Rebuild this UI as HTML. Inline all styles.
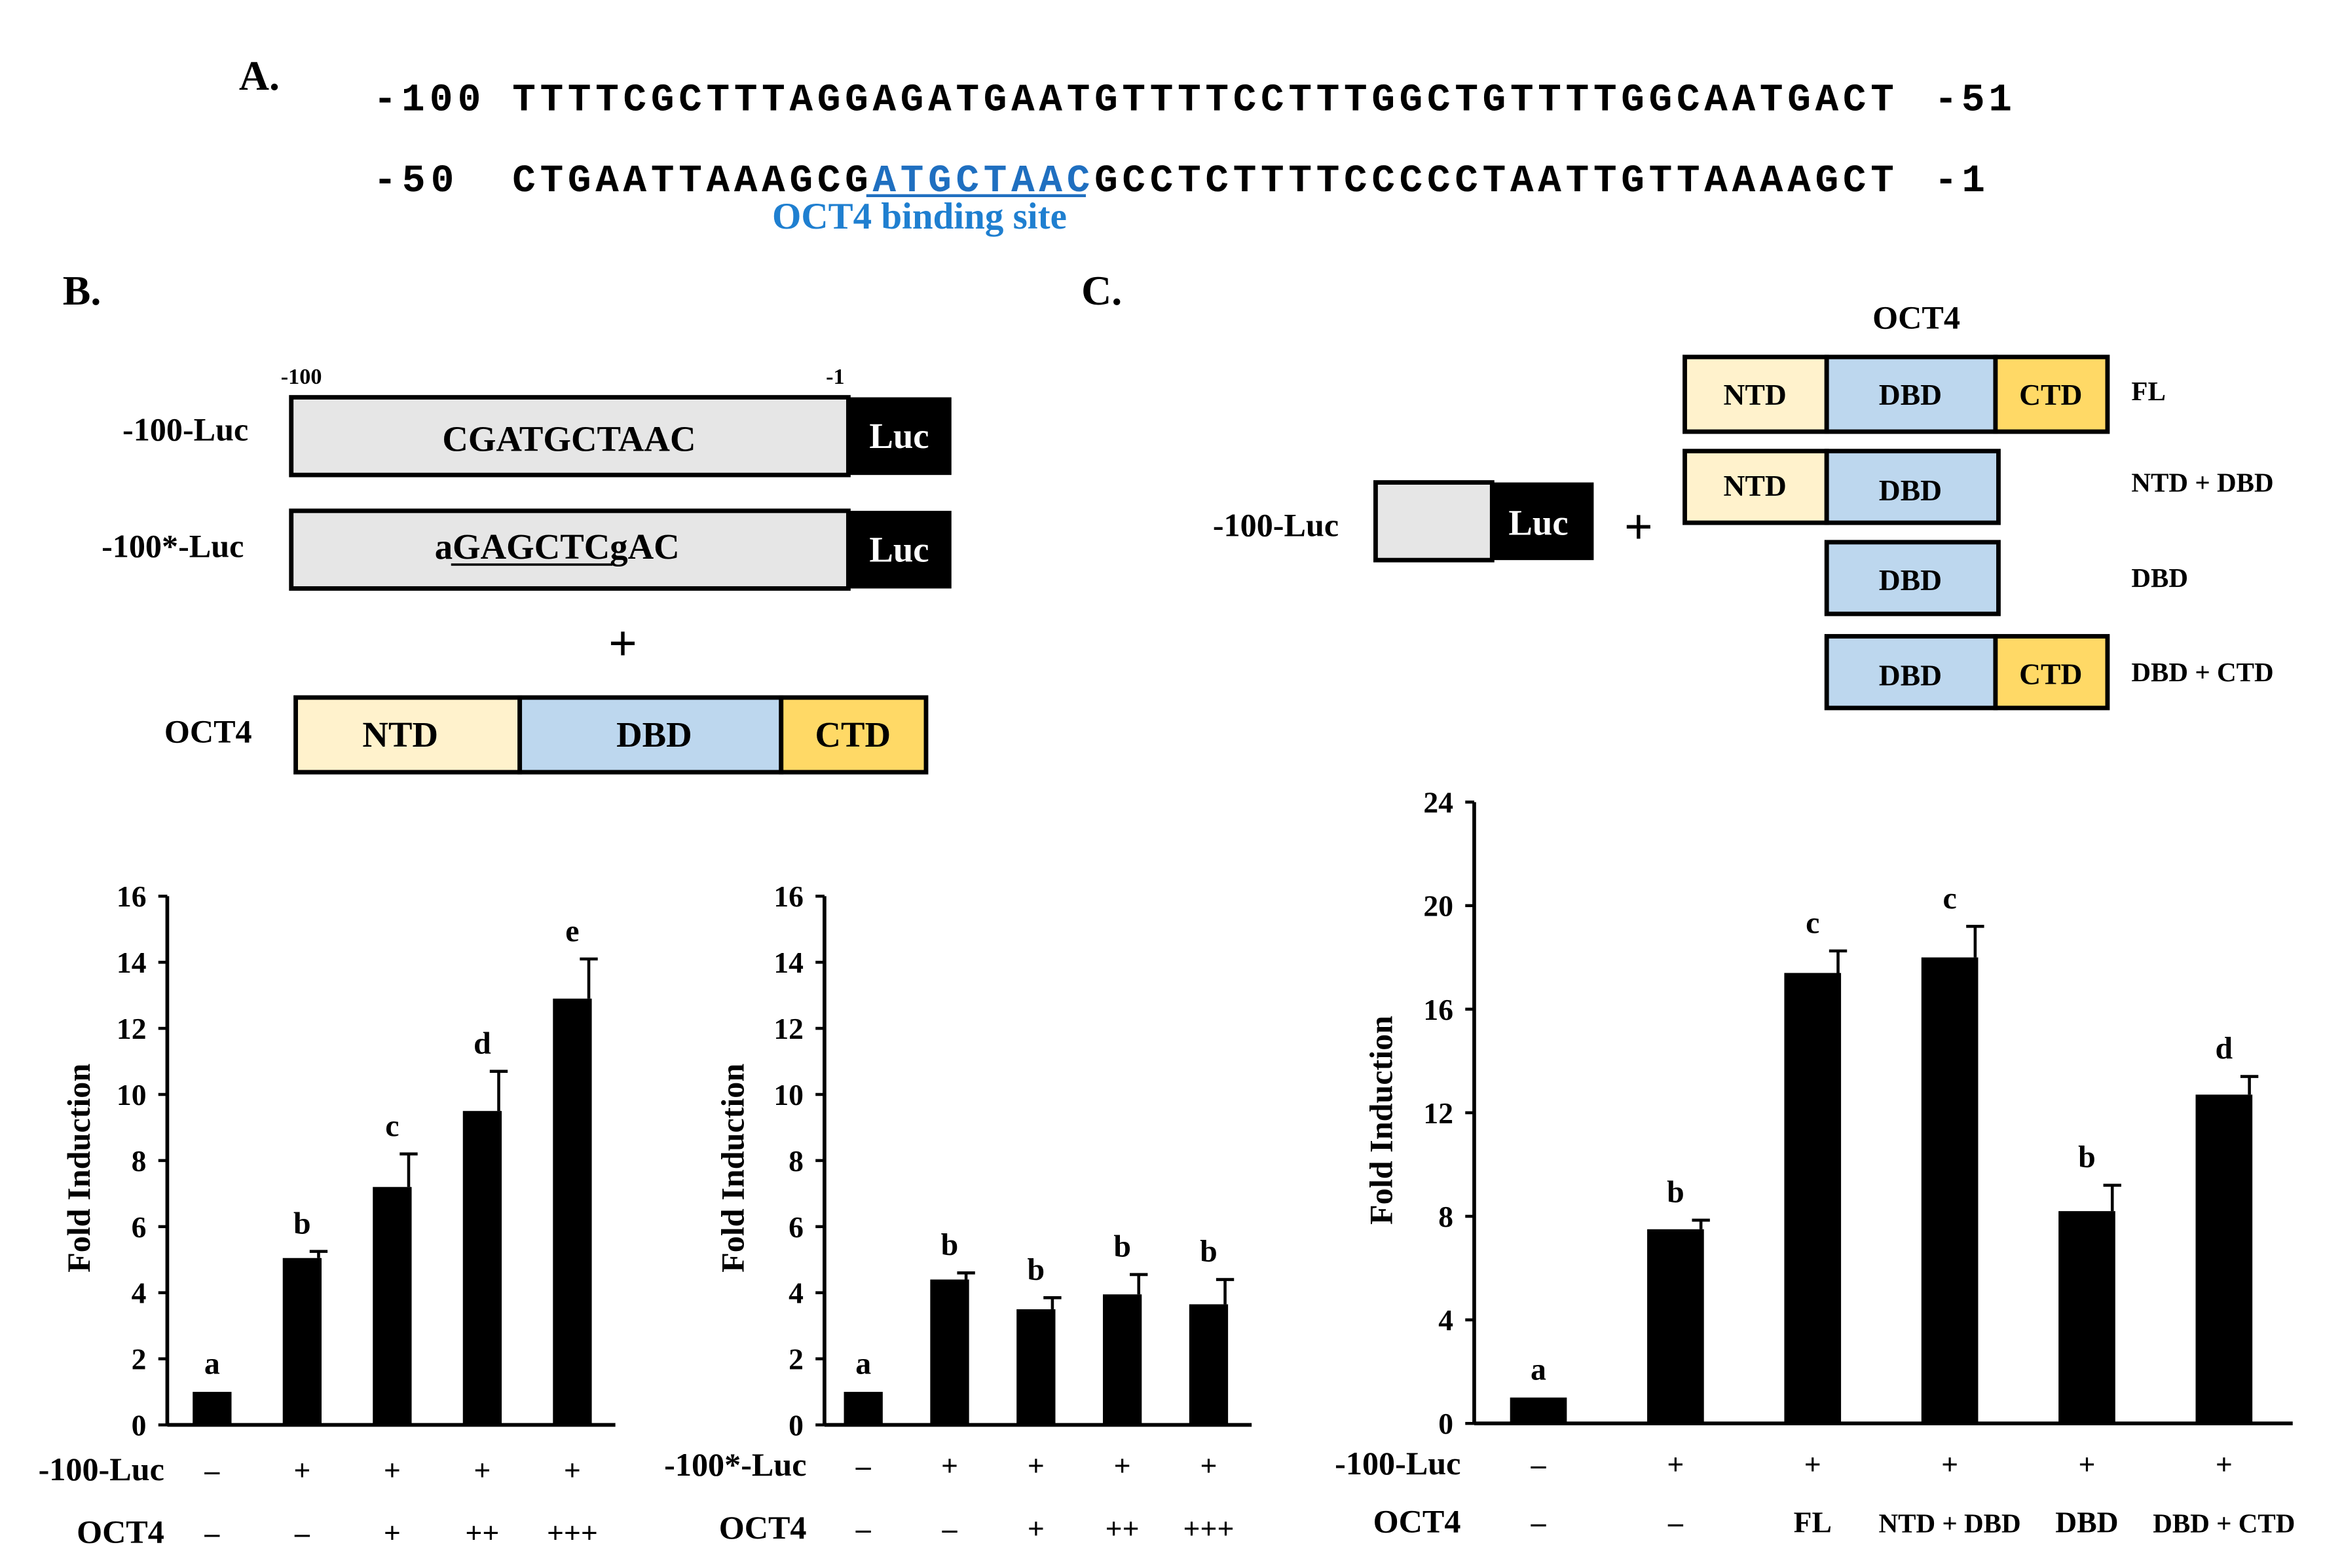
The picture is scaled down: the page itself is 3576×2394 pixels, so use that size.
<!DOCTYPE html>
<html><head><meta charset="utf-8"><style>
html,body{margin:0;padding:0;background:#fff}
svg{display:block}
text{font-family:"Liberation Serif",serif;font-weight:bold;fill:#000}
.mono{font-family:"Liberation Mono",monospace}
</style></head><body>
<svg id="fig" width="3576" height="2394" viewBox="0 0 1568 1049.8" preserveAspectRatio="none" xmlns="http://www.w3.org/2000/svg">
<rect width="1600" height="1100" fill="#fff"/>
<g>
<text x="160" y="60" font-size="28">A.</text>
<text class="mono" x="250" y="74" font-size="26" textLength="72">-100</text>
<text class="mono" x="343" y="74" font-size="26" textLength="925">TTTTCGCTTTAGGAGATGAATGTTTTCCTTTGGCTGTTTTGGCAATGACT</text>
<text class="mono" x="1295" y="74" font-size="26" textLength="52">-51</text>
<text class="mono" x="250" y="128" font-size="26" textLength="54">-50</text>
<text class="mono" x="343" y="128" font-size="26" textLength="925">CTGAATTAAAGCG<tspan style="fill:#1f6fc0">ATGCTAAC</tspan>GCCTCTTTTCCCCCTAATTGTTAAAAGCT</text>
<line x1="580" y1="131" x2="727" y2="131" stroke="#1f6fc0" stroke-width="2"/>
<text class="mono" x="1295" y="128" font-size="26" textLength="34">-1</text>
<text x="517" y="153" font-size="25" style="fill:#1f7fd0">OCT4 binding site</text>
</g>
<g>
<text x="42" y="204" font-size="28">B.</text>
<text x="188" y="257" font-size="15" font-weight="normal">-100</text>
<text x="553" y="257" font-size="15" font-weight="normal">-1</text>
<text x="82" y="295" font-size="22" font-weight="normal">-100-Luc</text>
<rect x="195" y="266" width="373" height="52" fill="#e6e6e6" stroke="#000" stroke-width="3"/>
<rect x="568" y="266" width="69" height="52" fill="#000"/>
<text x="381" y="302" font-size="24" text-anchor="middle">CGATGCTAAC</text>
<text x="602" y="300" font-size="24" text-anchor="middle" style="fill:#fff">Luc</text>
<text x="68" y="373" font-size="22" font-weight="normal">-100*-Luc</text>
<rect x="195" y="342" width="373" height="52" fill="#e6e6e6" stroke="#000" stroke-width="3"/>
<rect x="568" y="342" width="69" height="52" fill="#000"/>
<text x="373" y="374" font-size="24" text-anchor="middle">aGAGCTCgAC</text>
<line x1="302" y1="378" x2="410" y2="378" stroke="#000" stroke-width="1.5"/>
<text x="602" y="376" font-size="24" text-anchor="middle" style="fill:#fff">Luc</text>
<text x="417" y="442" font-size="34" text-anchor="middle">+</text>
<text x="110" y="497" font-size="22" font-weight="normal">OCT4</text>
<rect x="198" y="467" width="150" height="50" fill="#fff2cc" stroke="#000" stroke-width="3"/>
<rect x="348" y="467" width="175" height="50" fill="#bdd7ee" stroke="#000" stroke-width="3"/>
<rect x="523" y="467" width="97" height="50" fill="#ffd966" stroke="#000" stroke-width="3"/>
<text x="268" y="500" font-size="24" text-anchor="middle">NTD</text>
<text x="438" y="500" font-size="24" text-anchor="middle">DBD</text>
<text x="571" y="500" font-size="24" text-anchor="middle">CTD</text>
</g>
<g>
<text x="724" y="204" font-size="28">C.</text>
<text x="1283" y="220" font-size="22" text-anchor="middle">OCT4</text>
<text x="812" y="359" font-size="22" font-weight="normal">-100-Luc</text>
<rect x="921" y="323" width="78" height="52" fill="#e6e6e6" stroke="#000" stroke-width="3"/>
<rect x="999" y="323" width="68" height="52" fill="#000"/>
<text x="1030" y="358" font-size="24" text-anchor="middle" style="fill:#fff">Luc</text>
<text x="1097" y="364" font-size="34" text-anchor="middle">+</text>
<g stroke="#000" stroke-width="3">
<rect x="1128" y="239" width="95" height="50" fill="#fff2cc"/><rect x="1223" y="239" width="113" height="50" fill="#bdd7ee"/><rect x="1336" y="239" width="75" height="50" fill="#ffd966"/>
<rect x="1128" y="302" width="95" height="48" fill="#fff2cc"/><rect x="1223" y="302" width="115" height="48" fill="#bdd7ee"/>
<rect x="1223" y="363" width="115" height="48" fill="#bdd7ee"/>
<rect x="1223" y="426" width="113" height="48" fill="#bdd7ee"/><rect x="1336" y="426" width="75" height="48" fill="#ffd966"/>
</g>
<g font-size="20">
<text x="1175" y="271" text-anchor="middle">NTD</text><text x="1279" y="271" text-anchor="middle">DBD</text><text x="1373" y="271" text-anchor="middle">CTD</text>
<text x="1175" y="332" text-anchor="middle">NTD</text><text x="1279" y="335" text-anchor="middle">DBD</text>
<text x="1279" y="395" text-anchor="middle">DBD</text>
<text x="1279" y="459" text-anchor="middle">DBD</text><text x="1373" y="458" text-anchor="middle">CTD</text>
</g>
<g font-size="18">
<text x="1427" y="268">FL</text><text x="1427" y="329">NTD + DBD</text><text x="1427" y="393">DBD</text><text x="1427" y="456">DBD + CTD</text>
</g>
</g>
<g id="charts"></g>
</svg>
<script>
const b1Values = [1, 5.05, 7.2, 9.5, 12.9];
const b1Errors = [0, 0.2, 1.0, 1.2, 1.2];
const b1Letters = ['a','b','c','d','e'];
const b1Ticks = [0,2,4,6,8,10,12,14,16];
const b1Row1 = ['–','+','+','+','+'];
const b1Row2 = ['–','–','+','++','+++'];
const b2Values = [1, 4.4, 3.5, 3.95, 3.65];
const b2Errors = [0, 0.2, 0.35, 0.6, 0.75];
const b2Letters = ['a','b','b','b','b'];
const b2Ticks = [0,2,4,6,8,10,12,14,16];
const b2Row1 = ['–','+','+','+','+'];
const b2Row2 = ['–','–','+','++','+++'];
const cValues = [1, 7.5, 17.4, 18, 8.2, 12.7];
const cErrors = [0, 0.35, 0.85, 1.2, 1.0, 0.7];
const cLetters = ['a','b','c','c','b','d'];
const cTicks = [0,4,8,12,16,20,24];
const cRow1 = ['–','+','+','+','+','+'];
const cRow2 = ['–','–','FL','NTD + DBD','DBD','DBD + CTD'];

const NS='http://www.w3.org/2000/svg';
const root=document.getElementById('charts');
function mk(tag,attrs,parent,txt){const e=document.createElementNS(NS,tag);for(const k in attrs)e.setAttribute(k,attrs[k]);if(txt!==undefined)e.textContent=txt;parent.appendChild(e);return e;}

function chart(cfg){
  const g=mk('g',{},root);
  
  
  const yMax=cfg.ticks[cfg.ticks.length-1];
  const y=v=>cfg.y0-(v/yMax)*(cfg.y0-cfg.yTop);
  const x=i=>cfg.x0+cfg.first+i*cfg.step;
  const axY=mk('line',{x1:cfg.x0,y1:cfg.yTop,x2:cfg.x0,y2:cfg.y0,stroke:'#000','stroke-width':2.5},g);
  
  
  const axX=mk('line',{x1:cfg.x0,y1:cfg.y0,x2:cfg.x1,y2:cfg.y0,stroke:'#000','stroke-width':2.5},g);
  
  
  cfg.ticks.forEach(t=>{
    mk('line',{x1:cfg.x0-6,y1:y(t),x2:cfg.x0,y2:y(t),stroke:'#000','stroke-width':2},g);
    const tl=mk('text',{x:cfg.x0-14,y:y(t)+7,'font-size':20,'text-anchor':'end'},g,String(t));
    
    
  });
  const yt=mk('text',{transform:`translate(${cfg.titleX},${(cfg.y0+cfg.yTop)/2+5}) rotate(-90)`,'font-size':22,'text-anchor':'middle'},g,'Fold Induction');
  
  
  cfg.values.forEach((v,i)=>{
    const cx=x(i);
    const b=mk('rect',{x:cx-cfg.bw/2,y:y(v),width:cfg.bw,height:cfg.y0-y(v),fill:'#000'},g);
    
    
    const e=cfg.errors[i];
    if(e>0){
      mk('line',{x1:cx+cfg.bw/2-2,y1:y(v),x2:cx+cfg.bw/2-2,y2:y(v+e),stroke:'#000','stroke-width':2},g);
      mk('line',{x1:cx+cfg.bw/2-2-6,y1:y(v+e),x2:cx+cfg.bw/2-2+6,y2:y(v+e),stroke:'#000','stroke-width':2},g);
    }
    const lt=mk('text',{x:cx,y:y(v+e)-12,'font-size':21,'text-anchor':'middle'},g,cfg.letters[i]);
    
    
    const r1=mk('text',{x:cx,y:cfg.row1Y,'font-size':20,'text-anchor':'middle'},g,cfg.row1[i]);
    
    
    const r2=mk('text',{x:cx,y:cfg.row2Y,'font-size':cfg.row2[i].length>3?18:20,'text-anchor':'middle'},g,cfg.row2[i]);
    
    
  });
  const h1=mk('text',{x:cfg.rowLabelX,y:cfg.row1Y,'font-size':22,'font-weight':'normal','text-anchor':'end'},g,cfg.row1Name);
  
  
  const h2=mk('text',{x:cfg.rowLabelX,y:cfg.row2Y,'font-size':22,'text-anchor':'end'},g,'OCT4');
  
  
}
chart({name:'chart-b-wildtype',values:b1Values,errors:b1Errors,letters:b1Letters,ticks:b1Ticks,row1:b1Row1,row2:b1Row2,
  x0:112,x1:412,y0:954,yTop:600,first:30,step:60.3,bw:26,titleX:60,row1Y:991,row2Y:1033,rowLabelX:110,row1Name:'-100-Luc'});
chart({name:'chart-b-mutant',values:b2Values,errors:b2Errors,letters:b2Letters,ticks:b2Ticks,row1:b2Row1,row2:b2Row2,
  x0:552,x1:838,y0:954,yTop:600,first:26,step:57.8,bw:26,titleX:498,row1Y:988,row2Y:1030,rowLabelX:540,row1Name:'-100*-Luc'});
chart({name:'chart-c-domains',values:cValues,errors:cErrors,letters:cLetters,ticks:cTicks,row1:cRow1,row2:cRow2,
  x0:987,x1:1535,y0:953,yTop:537,first:43,step:91.8,bw:38,titleX:932,row1Y:987,row2Y:1026,rowLabelX:978,row1Name:'-100-Luc'});
</script>
</body></html>
